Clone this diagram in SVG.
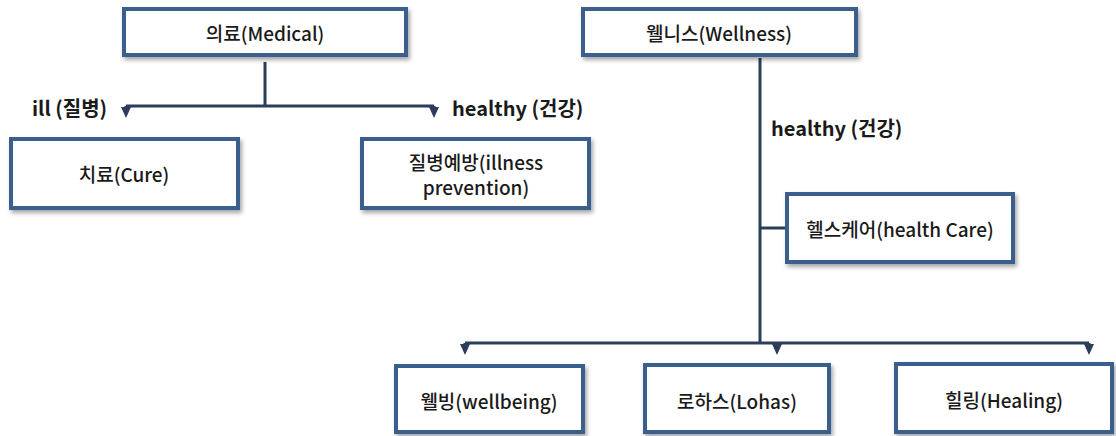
<svg xmlns="http://www.w3.org/2000/svg" width="1116" height="436" viewBox="0 0 1116 436">
<defs>
<filter id="sh" x="-10%" y="-20%" width="125%" height="150%">
<feDropShadow dx="2" dy="3" stdDeviation="2" flood-color="#000" flood-opacity="0.35"/>
</filter>
<marker id="ar" viewBox="0 0 11 10" refX="0" refY="5" markerWidth="11" markerHeight="10" markerUnits="userSpaceOnUse" orient="auto">
<path d="M0,0 L11,5 L0,10 Z" fill="#2b3d58"/>
</marker>
</defs>
<style>
.box{fill:#fff;stroke:#3b5e8c;stroke-width:4;filter:url(#sh)}
.ln{fill:none;stroke:#2b3d58;stroke-width:3}
.t{font-family:"Noto Sans CJK KR","Noto Sans",sans-serif;font-size:19px;font-weight:500;fill:#1a1a1a;text-anchor:middle;dominant-baseline:central}
.lb{font-family:"Noto Sans CJK KR","Noto Sans",sans-serif;font-size:20px;font-weight:bold;fill:#1a1a1a;dominant-baseline:central}
</style>
<rect width="1116" height="436" fill="#fff"/>
<g id="connectors">
<path class="ln" d="M265,62 V106"/>
<path class="ln" d="M126,106 H434"/>
<path class="ln" d="M126,106 V107" marker-end="url(#ar)"/>
<path class="ln" d="M434,106 V107" marker-end="url(#ar)"/>
<path class="ln" d="M760,58 V343"/>
<path class="ln" d="M760,228 H787"/>
<path class="ln" d="M465,343 H1089"/>
<path class="ln" d="M465,343 V344" marker-end="url(#ar)"/>
<path class="ln" d="M777,343 V344" marker-end="url(#ar)"/>
<path class="ln" d="M1089,343 V344" marker-end="url(#ar)"/>
</g>
<g id="labels">
<text class="lb" x="32" y="107">ill (질병)</text>
<text class="lb" x="452" y="107">healthy (건강)</text>
<text class="lb" x="771" y="127">healthy (건강)</text>
</g>
<g id="medical"><rect class="box" x="124" y="9" width="282" height="46"/><text class="t" x="265" y="32">의료(Medical)</text></g>
<g id="wellness"><rect class="box" x="583" y="9" width="273" height="46"/><text class="t" x="719" y="32">웰니스(Wellness)</text></g>
<g id="cure"><rect class="box" x="11" y="139" width="227" height="69"/><text class="t" x="124" y="173">치료(Cure)</text></g>
<g id="prevention"><rect class="box" x="362" y="139" width="227" height="69"/><text class="t" x="476" y="161">질병예방(illness</text><text class="t" x="476" y="186">prevention)</text></g>
<g id="healthcare"><rect class="box" x="787" y="194" width="226" height="68"/><text class="t" x="900" y="228">헬스케어(health Care)</text></g>
<g id="wellbeing"><rect class="box" x="396" y="366" width="187" height="66"/><text class="t" x="489" y="400">웰빙(wellbeing)</text></g>
<g id="lohas"><rect class="box" x="645" y="365" width="184" height="67"/><text class="t" x="737" y="400">로하스(Lohas)</text></g>
<g id="healing"><rect class="box" x="896" y="364" width="216" height="68"/><text class="t" x="1004" y="399">힐링(Healing)</text></g>
</svg>
